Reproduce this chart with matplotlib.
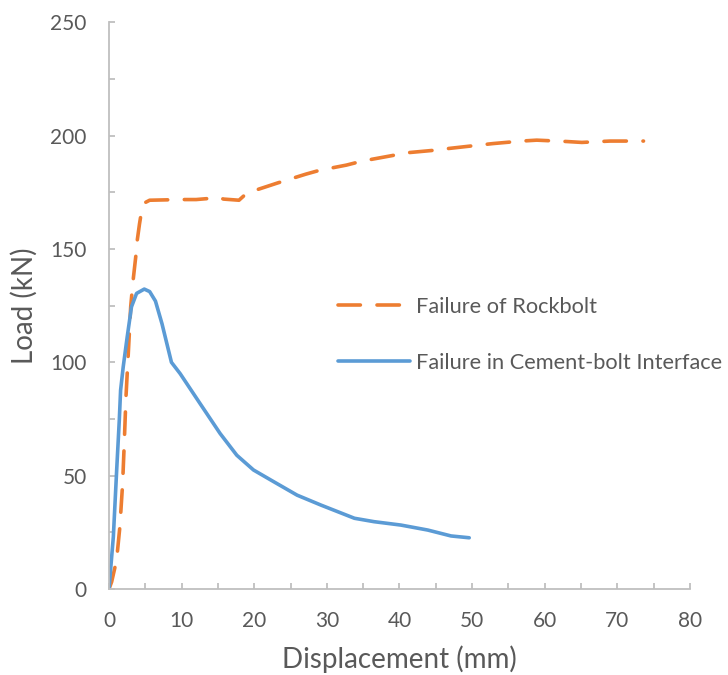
import matplotlib
matplotlib.use('Agg')
import matplotlib.pyplot as plt
from matplotlib.ticker import MultipleLocator

# Load-displacement curves from the pull-out tests
rock_disp = [0, 0.37, 1.05, 1.5, 1.88, 2.1, 2.34, 2.66, 2.99, 3.3, 3.7, 3.9, 4.2, 4.5,
             5.0, 5.6, 7.0, 9.8, 12.0, 13.5, 14.6, 15.8, 17.9, 19.0, 21.3, 23.2, 27.1,
             29.0, 32.7, 34.9, 39.0, 40.9, 45.0, 46.7, 50.9, 52.9, 56.8, 58.9, 63.0,
             65.1, 69.0, 71.1, 73.6]
rock_load = [0, 3.2, 12.8, 27.5, 46.6, 64, 84.8, 104, 124.5, 135.5, 147, 154, 161, 167,
             170.5, 171.5, 171.6, 171.8, 171.8, 172.2, 173, 172, 171.5, 174.7, 177.1,
             179.1, 183, 184.7, 187, 188.8, 191.2, 192.4, 193.6, 194.3, 195.8, 196.5,
             197.6, 198, 197.4, 197, 197.6, 197.6, 197.6]

cem_disp = [0, 0.6, 1.06, 1.42, 1.6, 1.96, 2.5, 3.1, 3.8, 4.86, 5.6, 6.4, 7.3, 8.6, 9.8,
            12.5, 15.3, 17.6, 19.9, 22.7, 25.9, 29.2, 33.8, 36.5, 40.2, 43.9, 47.1, 49.6]
cem_load = [0, 23, 52.5, 74.5, 87.7, 98, 111, 124.5, 130.4, 132.3, 131.2, 127, 117, 100, 95,
            82, 68.6, 59, 52.5, 47.3, 41.4, 37, 31.2, 29.7, 28.2, 26, 23.4, 22.6]

labels = ['Failure of Rockbolt', 'Failure in Cement-bolt Interface']

text_col = '#595959'
axis_col = '#BFBFBF'
plt.rcParams['font.family'] = ['Lato', 'DejaVu Sans']

fig = plt.figure(figsize=(7.28, 6.75), dpi=100)
ax = fig.add_axes([0.1497, 0.1274, 0.7981, 0.8396])

ax.plot(rock_disp, rock_load, color='#ED7D31', lw=2.6, dashes=(6.2, 4.6),
        dash_capstyle='round', solid_capstyle='round', solid_joinstyle='round',
        dash_joinstyle='round', label=labels[0])
ax.plot(cem_disp, cem_load, color='#5B9BD5', lw=2.6, solid_capstyle='round',
        solid_joinstyle='round', label=labels[1])

ax.set_xlim(0, 80)
ax.set_ylim(0, 250)
ax.xaxis.set_major_locator(MultipleLocator(10))
ax.xaxis.set_minor_locator(MultipleLocator(5))
ax.yaxis.set_major_locator(MultipleLocator(50))
ax.yaxis.set_minor_locator(MultipleLocator(25))

for side in ['top', 'right']:
    ax.spines[side].set_visible(False)
for side in ['left', 'bottom']:
    ax.spines[side].set_color(axis_col)
    ax.spines[side].set_linewidth(1.3)

ax.tick_params(which='both', direction='in', length=4.5, width=1.3, color=axis_col)
ax.tick_params(axis='both', which='major', labelsize=15, labelcolor=text_col)
ax.tick_params(axis='y', which='major', pad=16)
ax.tick_params(axis='x', which='major', pad=16)

ax.set_xlabel('Displacement (mm)', fontsize=20, color=text_col, labelpad=10)
ax.set_ylabel('Load (kN)', fontsize=20, color=text_col, labelpad=9)

ax.legend(loc='upper left', bbox_to_anchor=(338 / 728, 1 - 297 / 675),
          bbox_transform=fig.transFigure, frameon=False, fontsize=15.7,
          labelcolor=text_col, handlelength=3.3, handletextpad=0.3,
          labelspacing=1.65, borderpad=0, borderaxespad=0)

fig.savefig('out.png', dpi=100)
